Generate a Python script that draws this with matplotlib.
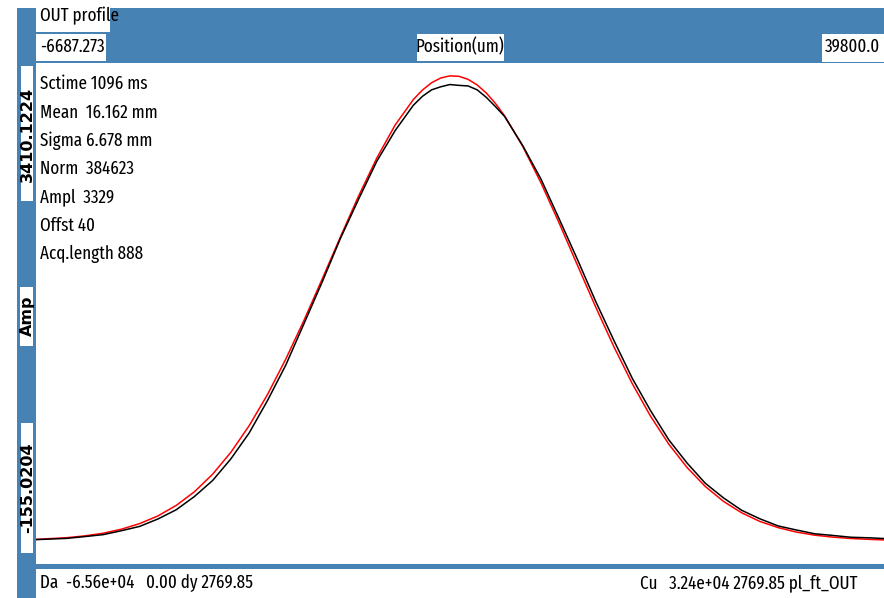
import matplotlib
matplotlib.use("Agg")
import matplotlib.pyplot as plt
from matplotlib.patches import Rectangle
from matplotlib import font_manager
from matplotlib.font_manager import FontProperties
import numpy as np

# ---- data ----
pos_mm = [-6.687, -5, -4, -3, -2, -1, 0, 1, 2, 3, 4, 5, 6, 7, 8, 9, 10, 11, 12, 13,
          14, 14.5, 15, 15.5, 16, 16.5, 17, 17.5, 18, 18.5, 19, 20, 21, 22, 23, 24,
          25, 26, 27, 28, 29, 30, 31, 32, 33, 34, 35, 36, 37, 38, 39, 39.8]
fit_amp = [50, 62, 75, 94, 123, 163, 218, 293, 391, 517, 674, 864, 1086, 1339, 1617,
           1913, 2215, 2509, 2781, 3016, 3199, 3267, 3319, 3353, 3368, 3365, 3343,
           3303, 3245, 3171, 3082, 2862, 2601, 2312, 2011, 1712, 1427, 1165, 932,
           732, 565, 429, 322, 240, 178, 134, 102, 80, 66, 56, 50, 46]
meas_amp = [48, 57, 70, 84, 112, 143, 196, 262, 357, 472, 627, 812, 1043, 1296, 1593,
            1892, 2204, 2486, 2758, 2976, 3158, 3222, 3268, 3290, 3306, 3300, 3296,
            3268, 3214, 3148, 3078, 2868, 2628, 2342, 2052, 1752, 1472, 1203, 972,
            763, 597, 452, 347, 258, 197, 146, 117, 90, 78, 65, 61, 56]

x_min, x_max = -6687.273, 39800.0
y_min, y_max = -155.0204, 3410.1224
stats = ["Sctime 1096 ms", "Mean  16.162 mm", "Sigma 6.678 mm", "Norm  384623",
         "Ampl  3329", "Offst 40", "Acq.length 888"]
title = "OUT profile"
x_label = "Position(um)"
y_label = "Amp"
footer_left = "Da  -6.56e+04   0.00 dy 2769.85"
footer_right = "Cu   3.24e+04 2769.85 pl_ft_OUT"


# ---- choose the narrowest available sans font ----
def pick_narrow():
    cands = []
    for f in font_manager.fontManager.ttflist:
        nm = f.name.lower()
        st = str(f.stretch).lower()
        if f.style != "normal":
            continue
        w = f.weight if isinstance(f.weight, int) else 400
        if w != 400:
            continue
        if "mono" in nm or ("serif" in nm and "sans" not in nm):
            continue
        score = None
        if "extra-condensed" in st or "ultra-condensed" in st or "extracondensed" in nm.replace(" ", ""):
            score = 0
        elif "narrow" in nm or st == "condensed" or "condensed" in nm:
            score = 1
        elif "semi-condensed" in st or "semicondensed" in nm.replace(" ", ""):
            score = 2
        if score is not None:
            cands.append((score, f.fname))
    if cands:
        cands.sort()
        return FontProperties(fname=cands[0][1])
    return FontProperties(family="DejaVu Sans")


narrow_fp = pick_narrow()

# ---- figure ----
W, H = 884, 598
fig = plt.figure(figsize=(W / 100, H / 100), dpi=100, facecolor="white")
BLUE = "#4682B4"
renderer = fig.canvas.get_renderer()


def rect(x0, y0, x1, y1, color, z=1):
    fig.patches.append(Rectangle((x0 / W, 1 - y1 / H), (x1 - x0) / W, (y1 - y0) / H,
                                 transform=fig.transFigure, facecolor=color,
                                 edgecolor="none", zorder=z))


def ftext(x, y, s, fp=None, **kw):
    return fig.text(x / W, 1 - y / H, s, fontproperties=fp, **kw)


# font size that makes a reference string about as wide as in the picture
probe = fig.text(0, 0, "Mean  16.162 mm", fontproperties=narrow_fp.copy())
probe.set_fontsize(10)
wpx = probe.get_window_extent(renderer).width
probe.remove()
fs = min(15.0, 1.1 * 10 * 107.0 / wpx)
fp = narrow_fp.copy()
fp.set_size(fs)

# plot axes: x 36..884, data y range mapped to pixel rows 70..568
ax = fig.add_axes([36 / W, 1 - 568 / H, 848 / W, 498 / H])
ax.set_xlim(x_min, x_max)
ax.set_ylim(y_min, y_max)
ax.axis("off")
xs = np.array(pos_mm) * 1000.0
ax.plot(xs, fit_amp, color="#ff0000", lw=1.1, zorder=2, clip_on=False)
ax.plot(xs, meas_amp, color="black", lw=1.1, zorder=3, clip_on=False)

# frame
rect(17, 8, 36, 598, BLUE, 5)
rect(17, 8, 884, 63, BLUE, 5)
rect(36, 564, 884, 569, BLUE, 5)

# white label boxes
rect(36, 0, 110, 32, "white", 6)
rect(36, 34, 106, 61, "white", 6)
rect(417, 34, 504, 61, "white", 6)
rect(822, 34, 884, 62, "white", 6)
rect(21, 66, 33, 201, "white", 6)
rect(20, 287, 33, 346, "white", 6)
rect(21, 423, 33, 553, "white", 6)

ftext(40, 16, title, fp, va="center", ha="left", zorder=7)
ftext(40, 47, "%.3f" % x_min, fp, va="center", ha="left", zorder=7)
ftext(460, 47, x_label, fp, va="center", ha="center", zorder=7)
ftext(880, 47, "%.1f" % x_max, fp, va="center", ha="right", zorder=7)

for i, s in enumerate(stats):
    ftext(40, 84 + i * 28.3, s, fp, va="center", ha="left", zorder=7)

ftext(40, 583, footer_left, fp, va="center", ha="left", zorder=7)
ftext(857, 583, footer_right, fp, va="center", ha="right", zorder=7)

vfp = FontProperties(family="DejaVu Sans", weight="bold", size=11.5)
ftext(27.5, 134, "%.4f" % y_max, vfp, rotation=90, va="center", ha="center", zorder=7)
ftext(27, 316, y_label, vfp, rotation=90, va="center", ha="center", zorder=7)
ftext(27.5, 488, "%.4f" % y_min, vfp, rotation=90, va="center", ha="center", zorder=7)

fig.savefig("out.png", dpi=100, facecolor="white")
